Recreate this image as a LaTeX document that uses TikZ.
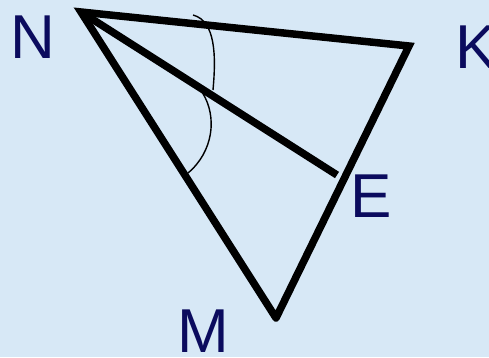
\documentclass[tikz,border=0pt]{standalone}
\usepackage{fontspec}
\setmainfont{Liberation Sans}
\definecolor{bg}{HTML}{D7E8F6}
\definecolor{lbl}{HTML}{0B0B5E}
\begin{document}
\begin{tikzpicture}[x=1pt,y=1pt,
  side/.style={line width=7.5pt,line cap=round,line join=miter},
  anglemark/.style={line width=1.4pt},
  lab/.style={text=lbl,font=\fontsize{62}{62}\selectfont,anchor=base,inner sep=0pt}]
\useasboundingbox (0,0) rectangle (489,357);
\clip (0,0) rectangle (489,357);
\fill[bg] (0,0) rectangle (489,357);
\coordinate (N) at (81,345);
\coordinate (K) at (409,311);
\coordinate (M) at (276,39);
\coordinate (E) at (337,182);
\draw[side] (M) -- (N) -- (K) -- (M);
\draw[side,line cap=butt] (N) -- (E);
\coordinate (a1) at (193,342);
\coordinate (a2) at (213,267);
\coordinate (b1) at (202,265);
\coordinate (b2) at (188,184);
\draw[anglemark] (a1) .. controls (216,336) and (216,300) .. (a2);
\draw[anglemark] (b1) .. controls (218,240) and (213,205) .. (b2);
\node[lab] (nN) at (33,299) {N};
\node[lab] (nK) at (476,289) {K};
\node[lab] (nE) at (371,140) {E};
\node[lab] (nM) at (203,5) {M};
\end{tikzpicture}
\end{document}
